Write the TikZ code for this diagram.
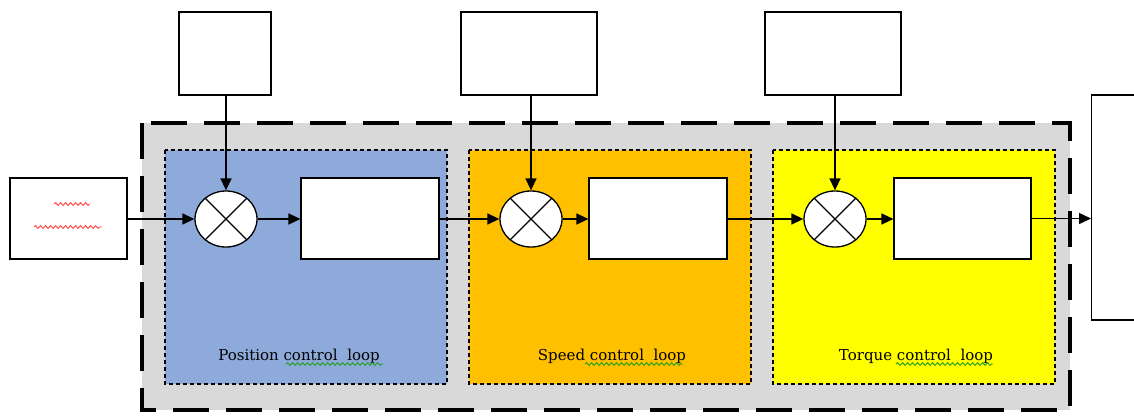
\documentclass[tikz,border=0pt]{standalone}
\usepackage{tikz}
\usepackage{fontspec}
\newfontfamily\labelfont{DejaVu Serif}
\usetikzlibrary{shapes.geometric,arrows.meta,decorations.pathmorphing}
\definecolor{frameGray}{HTML}{D9D9D9}
\definecolor{posBlue}{HTML}{8EAADB}
\definecolor{spdOrange}{HTML}{FFC000}
\definecolor{trqYellow}{HTML}{FFFF00}
\definecolor{squigRed}{HTML}{FF4040}
\definecolor{squigGreen}{HTML}{20A020}
\tikzset{
  plainbox/.style={draw=black, line width=1.2pt, fill=white, inner sep=0pt},
  panel/.style={draw=black, line width=1.3pt, dash pattern=on 4pt off 3pt},
  outerframe/.style={draw=black, line width=3.5pt, dash pattern=on 36pt off 17pt, fill=frameGray},
  summer/.style={ellipse, draw=black, line width=1.3pt, fill=white, minimum width=62pt, minimum height=56pt, inner sep=0pt},
  flow/.style={line width=1.5pt, -{Triangle[length=12pt,width=11pt]}},
  looplabel/.style={font=\labelfont\fontsize{15}{18}\selectfont, inner sep=0pt},
  squig/.style={decorate, decoration={snake, segment length=5pt, amplitude=1.4pt}, line width=0.9pt}
}
\begin{document}
\begin{tikzpicture}[x=1pt,y=-1pt]
\useasboundingbox (0,0) rectangle (1134,415);

% dashed gray enclosure
\path[outerframe] (142,123) rectangle (1070,410);

% three coloured loop panels
\path[panel, fill=posBlue]    (165,150) rectangle (447,384);
\path[panel, fill=spdOrange]  (469,150) rectangle (751,384);
\path[panel, fill=trqYellow]  (773,150) rectangle (1055,384);

% reference boxes on top
\node[plainbox, minimum width=92pt,  minimum height=83pt] (ref1) at (225,53.5) {};
\node[plainbox, minimum width=136pt, minimum height=83pt] (ref2) at (529,53.5) {};
\node[plainbox, minimum width=136pt, minimum height=83pt] (ref3) at (833,53.5) {};

% input and output boxes
\node[plainbox, minimum width=117pt, minimum height=81pt] (src) at (68.5,218.5) {};
\node[plainbox, minimum width=60pt, minimum height=225pt, anchor=west] (load) at (1091,207.5) {};

% summing junctions
\node[summer] (s1) at (226,219) {};
\node[summer] (s2) at (531,219) {};
\node[summer] (s3) at (835,219) {};
\foreach \s in {s1,s2,s3}{
  \draw[line width=1.1pt] (\s.45) -- (\s.225);
  \draw[line width=1.1pt] (\s.135) -- (\s.315);
}

% controller blocks
\node[plainbox, minimum width=138pt, minimum height=81pt] (c1) at (370,218.5) {};
\node[plainbox, minimum width=138pt, minimum height=81pt] (c2) at (658,218.5) {};
\node[plainbox, minimum width=137pt, minimum height=81pt] (c3) at (962.5,218.5) {};

% signal flow
\draw[flow] (src.east |- s1.west) -- (s1.west);
\draw[flow] (s1.east) -- (c1.west |- s1.east);
\draw[flow] (c1.east |- s2.west) -- (s2.west);
\draw[flow] (s2.east) -- (c2.west |- s2.east);
\draw[flow] (c2.east |- s3.west) -- (s3.west);
\draw[flow] (s3.east) -- (c3.west |- s3.east);
\draw[flow] (c3.east) -- (load.west |- c3.east);
\draw[flow] (ref1.south -| s1.north) -- (s1.north);
\draw[flow] (ref2.south -| s2.north) -- (s2.north);
\draw[flow] (ref3.south -| s3.north) -- (s3.north);

% loop names
\node[looplabel] (l1) at (299,356) {Position control\ \ loop};
\node[looplabel] (l2) at (612,356) {Speed control\ \ loop};
\node[looplabel] (l3) at (916,356) {Torque control\ \ loop};

% underline squiggles
\draw[squig, squigGreen] (286,364) -- (383,364);
\draw[squig, squigGreen] (585,364) -- (683,364);
\draw[squig, squigGreen] (896,364) -- (993,364);
\draw[squig, squigRed] (54,204) -- (90,204);
\draw[squig, squigRed] (34,227) -- (102,227);
\end{tikzpicture}
\end{document}
